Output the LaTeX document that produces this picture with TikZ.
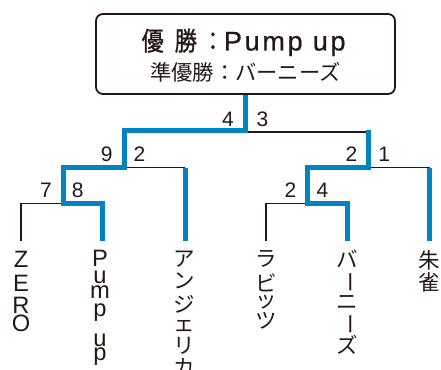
\documentclass[tikz,border=0pt]{standalone}
\usepackage{fontspec}
\setmainfont{Liberation Sans}
\newfontfamily\jp{Noto Sans CJK JP}
\newfontfamily\jpT[FakeStretch=0.85,FakeBold=1]{Noto Sans CJK JP}
\newfontfamily\lat[LetterSpace=10,FakeBold=0.6]{Liberation Sans}
\definecolor{ink}{HTML}{231815}
\definecolor{blu}{RGB}{0,131,193}
\newcommand\chouon{\rotatebox[origin=c]{-90}{ー}}
\begin{document}
\begin{tikzpicture}[x=1pt,y=-1pt,
  win/.style={draw=blu,line width=5pt},
  lose/.style={draw=ink,line width=1.5pt},
  score/.style={font=\fontsize{21}{21}\selectfont,text=ink,inner sep=0pt},
  vlat/.style={font=\fontsize{23.7}{24}\selectfont,text=ink,inner sep=0pt},
  vjp/.style={font=\jp\fontsize{21.5}{22}\selectfont,text=ink,inner sep=0pt}]
\useasboundingbox (0,0) rectangle (441,369);
% junctions
\coordinate (f) at (245,130.5);
\coordinate (fb) at (245,132);
\coordinate (sL) at (124,167.5);
\coordinate (sR) at (368.5,167.5);
\coordinate (qL) at (63,203.5);
\coordinate (qR) at (307.5,203.5);
\coordinate (lZ) at (21,241);
\coordinate (lP) at (102.5,241);
\coordinate (lA) at (185,241);
\coordinate (lR) at (266,241);
\coordinate (lB) at (347.5,241);
\coordinate (lS) at (429.5,241);
\coordinate (rtop) at (368.5,130);
\coordinate (ctop) at (245,94);
% black lines
\draw[lose] (fb) -- (fb -| sR);
\draw[lose] (sL) -- (sL -| lA);
\draw[lose] (sR) -- (sR -| lS);
\draw[lose] (qL) -| (lZ);
\draw[lose] (qR) -| (lR);
% blue lines
\draw[win] (ctop) -- (f) -| (sL) -| (qL) -| (lP);
\draw[win] (rtop) -- (sR) -| (qR) -| (lB);
\draw[win] (sL -| lA) -- (lA);
\draw[win] (sR -| lS) -- (lS);
% champion box
\node[draw=ink,line width=1.8pt,rounded corners=7pt,minimum width=299pt,minimum height=80pt,inner sep=0pt] (champ) at (245.5,54) {};
\node[anchor=base west,inner sep=0pt,text=ink] (t1) at (141.5,50.5) {\fontsize{26}{26}\selectfont{\jpT 優\hspace{11pt}勝\hspace{5pt}：}{\fontsize{27}{27}\selectfont\lat Pump up}};
\node[anchor=base,inner sep=0pt,text=ink] (t2) at (245.5,80.5) {\jp\fontsize{21.3}{22}\selectfont 準優勝：バーニーズ};
% scores
\node[score] (s1) at (228,119.5) {4};
\node[score] (s2) at (262.5,119.5) {3};
\node[score] (s3) at (106.7,154) {9};
\node[score] (s4) at (139.5,154) {2};
\node[score] (s5) at (351.5,154) {2};
\node[score] (s6) at (384.3,154) {1};
\node[score] (s7) at (46,190.5) {7};
\node[score] (s8) at (77.7,190.5) {8};
\node[score] (s9) at (290.5,190.5) {2};
\node[score] (s10) at (322.5,190.5) {4};
% leaves
\foreach \c/\y [count=\i] in {Z/259,E/283,R/305,O/323.5}
  \node[vlat] (zero\i) at (21,\y) {\c};
\foreach \c/\y [count=\i] in {P/258.5,u/277,m/292,p/312.5,u/340,p/356.5}
  \node[vlat] (pump\i) at (100,\y) {\c};
\foreach \c/\y [count=\i] in {ア/259.5,ン/281,ジ/304,ェ/326.5,リ/346,カ/367.5}
  \node[vjp] (ang\i) at (184,\y) {\c};
\foreach \c/\y [count=\i] in {ラ/259,ビ/282.5,ッ/302.5,ツ/321}
  \node[vjp] (rab\i) at (266,\y) {\c};
\foreach \c/\y [count=\i] in {バ/258.5,\chouon/282,ニ/302.5,\chouon/324,ズ/345}
  \node[vjp] (bar\i) at (347,\y) {\c};
\foreach \c/\y [count=\i] in {朱/260,雀/282.5}
  \node[vjp] (suz\i) at (429,\y) {\c};
\end{tikzpicture}
\end{document}
